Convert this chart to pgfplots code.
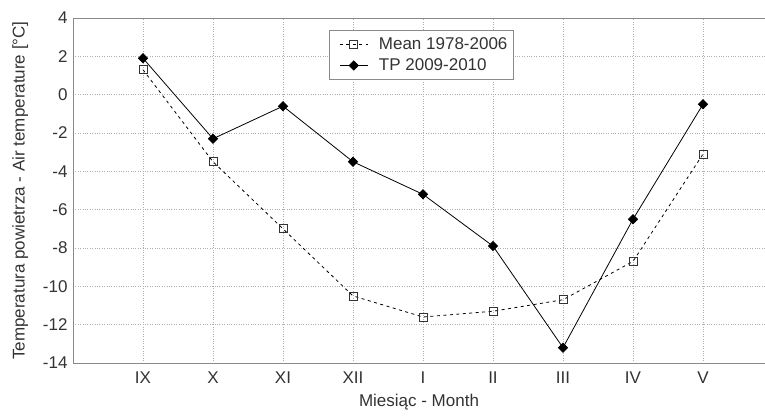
\documentclass[border=0pt]{standalone}
\usepackage{fontspec}
\setmainfont{Liberation Sans}
\usepackage{pgfplots}
\pgfplotsset{compat=1.18}
\definecolor{txt}{HTML}{333333}
\definecolor{axl}{HTML}{8A8A8A}
\definecolor{grd}{HTML}{B0B0B0}
\newcommand{\fs}{\fontsize{17}{20}\selectfont}
\begin{document}
\begin{tikzpicture}
\begin{axis}[
  scale only axis, width=692pt, height=345pt,
  xmin=0, xmax=9.886, ymin=-14, ymax=4,
  xtick={1,...,9},
  xticklabels={IX,X,XI,XII,I,II,III,IV,V},
  ytick={-14,-12,...,4},
  axis x line=box, axis y line=left,
  y axis line style={-},
  axis line style={axl, line width=0.9pt},
  major tick length=0pt,
  grid=major,
  major grid style={grd, dotted, line width=0.6pt},
  tick label style={font=\fs, text=txt},
  /pgf/number format/assume math mode=true,
  yticklabel style={xshift=-2pt},
  xticklabel style={yshift=-5pt},
  xlabel={Miesiąc - Month},
  ylabel={Temperatura powietrza - Air temperature [°C]},
  label style={font=\fs, text=txt},
  xlabel style={yshift=-4pt},
  ylabel style={yshift=8pt},
  legend style={at={(0.37,0.965)}, anchor=north west, draw=axl, line width=0.8pt,
    font=\fs, text=txt, inner xsep=4pt, inner ysep=5pt, row sep=4pt},
  legend image code/.code={\path (0cm,0cm) (1.5cm,0cm);
    \draw[mark repeat=2, mark phase=2] plot coordinates {(0.2cm,0cm) (0.7cm,0cm) (1.2cm,0cm)};},
  legend cell align=left,
]
\addplot[black, dash pattern=on 3pt off 3.5pt, line width=0.8pt, mark=square, mark size=4pt,
  mark options={solid, fill=white, draw=black!80, line width=0.8pt}]
  coordinates {(1,1.3) (2,-3.5) (3,-7.0) (4,-10.5) (5,-11.6) (6,-11.3) (7,-10.7) (8,-8.7) (9,-3.1)};
\addlegendentry{Mean 1978-2006}
\addplot[black, solid, line width=0.8pt, mark=square*, mark size=3.2pt,
  mark options={solid, fill=black, rotate=45}]
  coordinates {(1,1.9) (2,-2.3) (3,-0.6) (4,-3.5) (5,-5.2) (6,-7.9) (7,-13.2) (8,-6.5) (9,-0.5)};
\addlegendentry{TP 2009-2010}
\end{axis}
\pgfresetboundingbox
\path (-73pt,-54pt) rectangle (692pt,363pt);
\end{tikzpicture}
\end{document}
